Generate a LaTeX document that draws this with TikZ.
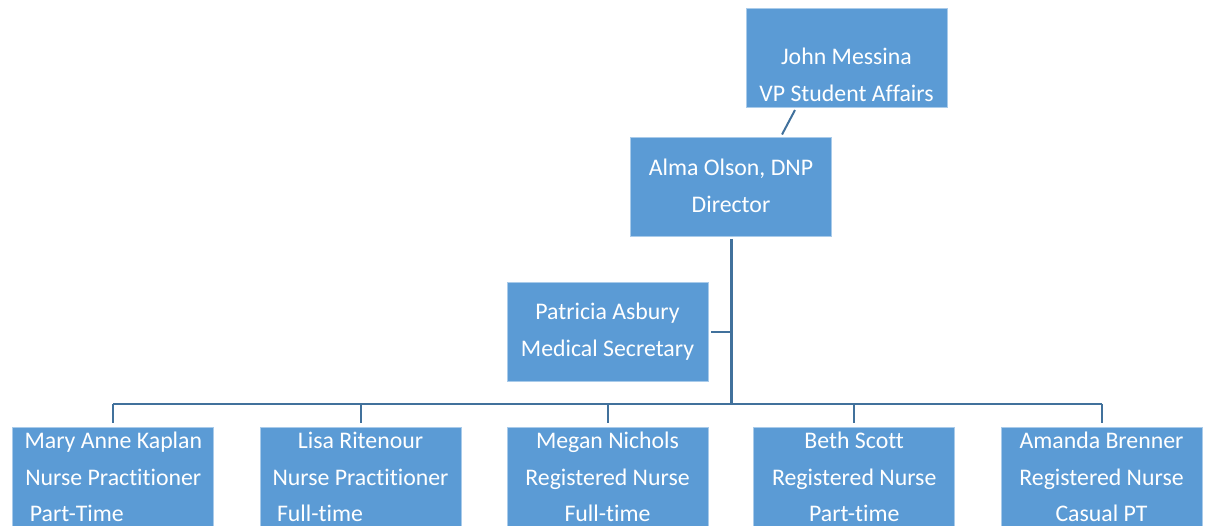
\documentclass[tikz,border=0pt]{standalone}
\usepackage{fontspec}
\setmainfont{Carlito}[Ligatures=NoCommon]
\definecolor{boxblue}{HTML}{5B9BD5}
\definecolor{boxedge}{HTML}{A9CBEA}
\definecolor{linkblue}{HTML}{41719C}
\begin{document}
\begin{tikzpicture}[x=1pt,y=-1pt,
  orgbox/.style={fill=boxblue,draw=boxedge,line width=0.8pt,minimum width=201pt,minimum height=99pt,inner sep=0pt},
  orgtext/.style={text=white,align=center,inner sep=0pt,font=\fontsize{23.8}{36.7}\selectfont},
  link/.style={draw=linkblue,line width=2pt},
  mainlink/.style={draw=linkblue,line width=3pt}]
\useasboundingbox (0,0) rectangle (1205,526);
% boxes
\node[orgbox] (john) at (846.5,57.5) {};
\node[orgtext] (johnT) at (846.5,75) {John Messina\\VP Student Affairs};
\node[orgbox] (alma) at (731,187) {};
\node[orgtext] (almaT) at (731,185.5) {Alma Olson, DNP\\Director};
\node[orgbox] (pat) at (607.5,331.7) {};
\node[orgtext] (patT) at (607.5,331.5) {Patricia Asbury\\Medical Secretary};
\node[orgbox] (mary) at (113.3,477.3) {};
\node[orgtext] (maryT) at (113.3,477) {Mary Anne Kaplan\\Nurse Practitioner\\\makebox[167pt][l]{Part-Time}};
\node[orgbox] (lisa) at (360.5,477.3) {};
\node[orgtext] (lisaT) at (360.5,477) {Lisa Ritenour\\Nurse Practitioner\\\makebox[167pt][l]{Full-time}};
\node[orgbox] (megan) at (607.5,477.3) {};
\node[orgtext] (meganT) at (607.5,477) {Megan Nichols\\Registered Nurse\\Full-time};
\node[orgbox] (beth) at (854.2,477.3) {};
\node[orgtext] (bethT) at (854.2,477) {Beth Scott\\Registered Nurse\\Part-time};
\node[orgbox] (amanda) at (1101.5,477.3) {};
\node[orgtext] (amandaT) at (1101.5,477) {Amanda Brenner\\Registered Nurse\\Casual PT};
% connectors
\coordinate (jb) at (795,110);
\coordinate (at) at (782,134.5);
\draw[link] (jb) -- (at);
\coordinate (ab) at (731,239);
\coordinate (hub) at (731,404);
\draw[mainlink] (ab) -- (hub);
\coordinate (patR) at (711,331.7);
\draw[link] (patR) -- (patR -| hub);
\coordinate (busL) at (113.3,404);
\coordinate (busR) at (1101.5,404);
\draw[link] (busL) -- (busR);
\foreach \n in {mary,lisa,megan,beth,amanda}{
  \draw[link] (\n.north |- hub) -- ([yshift=4pt]\n.north);
}
\end{tikzpicture}
\end{document}
